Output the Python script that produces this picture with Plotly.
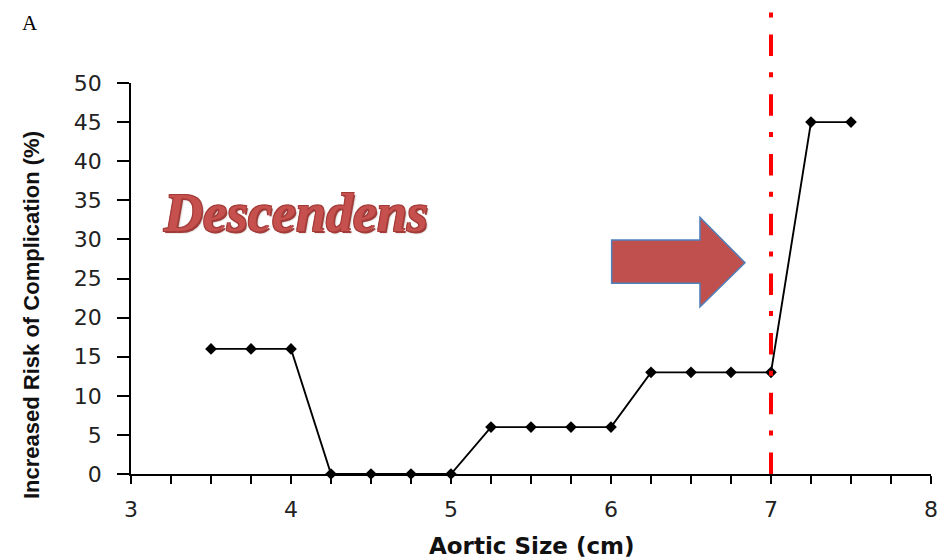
import plotly.graph_objects as go

aortic_size = [3.5, 3.75, 4.0, 4.25, 4.5, 4.75, 5.0, 5.25, 5.5, 5.75, 6.0, 6.25, 6.5, 6.75, 7.0, 7.25, 7.5]
risk = [16, 16, 16, 0, 0, 0, 0, 6, 6, 6, 6, 13, 13, 13, 13, 45, 45]
threshold = 7.0
x_ticks = [3, 4, 5, 6, 7, 8]
y_ticks = [0, 5, 10, 15, 20, 25, 30, 35, 40, 45, 50]

# page has 8px body margin -> figure offset
W, H = 943, 550
fig = go.Figure()
fig.add_trace(go.Scatter(
    x=aortic_size, y=risk, mode="lines+markers",
    line=dict(color="black", width=1.9),
    marker=dict(symbol="diamond", size=9, color="black"),
    showlegend=False, cliponaxis=False,
))

# red dash-dot threshold line, extending above plot
fig.add_shape(type="line", xref="x", yref="paper", x0=threshold, x1=threshold, y0=0, y1=1.215,
              line=dict(color="#FF0000", width=4, dash="21.5px,17px,5px,16.2px"), layer="above")

# block arrow (in data coordinates)
ax = [6.004, 6.556, 6.556, 6.8375, 6.556, 6.556, 6.004]
ay = [29.92, 29.92, 32.83, 27.02, 21.36, 24.39, 24.39]
path = "M " + " L ".join(f"{x},{y}" for x, y in zip(ax, ay)) + " Z"
fig.add_shape(type="path", xref="x", yref="y", path=path,
              fillcolor="#C0504D", line=dict(color="#4F81BD", width=1.5), layer="above")

def px2paper(px, py):
    return (px - 131) / 800, (474 - py) / 391

def label(text, px, py, font, angle=0, yanchor="middle"):
    x, y = px2paper(px, py)
    fig.add_annotation(text=text, xref="paper", yref="paper", x=x, y=y,
                       xanchor="center", yanchor=yanchor, textangle=angle,
                       showarrow=False, font=font)

label("<b><i>Descendens</i></b>", 295, 213,
      dict(family="Liberation Serif", size=54, color="#C5504D",
           shadow="1.5px 1.5px 0 #a33b38, -1px -1px 0 #a33b38, 1px -1px 0 #a33b38, -1px 1px 0 #a33b38, 2px 2px 2px #bbb"))
label("A", 30, 8.5, dict(family="Liberation Serif", size=21, color="black"), yanchor="top")
label("<b>Increased Risk of Complication (%)</b>", 31, 315,
      dict(family="Liberation Sans", size=22, color="#111"), angle=-90)
label("<b>Aortic Size (cm)</b>", 532, 546, dict(family="DejaVu Sans", size=23, color="#111"))

fig.update_layout(
    width=W, height=H,
    margin=dict(l=123, r=20, t=75, b=84),
    paper_bgcolor="white", plot_bgcolor="white",
    font=dict(family="DejaVu Sans", color="#222"),
)
fig.update_xaxes(
    range=[3, 8], tickvals=x_ticks, showgrid=False, zeroline=False,
    showline=True, linecolor="black", linewidth=1.6,
    ticks="outside", ticklen=8, tickcolor="black", tickwidth=1.6,
    minor=dict(dtick=0.25, ticks="outside", ticklen=8, tickcolor="black", tickwidth=1.6),
    tickfont=dict(size=22, color="#222"), ticklabelstandoff=7,
)
fig.update_yaxes(
    range=[0, 50], tickvals=y_ticks, showgrid=False, zeroline=False,
    showline=True, linecolor="black", linewidth=1.6,
    ticks="outside", ticklen=12, tickcolor="black", tickwidth=1.6,
    tickfont=dict(size=22, color="#222"), ticklabelstandoff=11,
)

fig.write_html("out.html")
